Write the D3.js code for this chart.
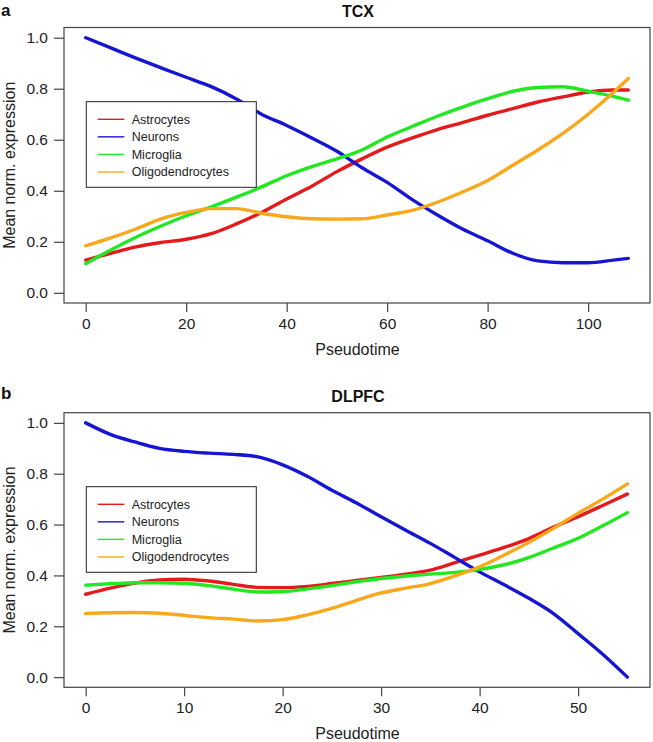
<!DOCTYPE html>
<html>
<head>
<meta charset="utf-8">
<script src="https://cdn.jsdelivr.net/npm/d3@7"></script>
<style>
  html, body { margin: 0; padding: 0; background: #fff; }
  svg { display: block; font-family: "Liberation Sans", Arial, Helvetica, sans-serif; }
</style>
</head>
<body>
<svg id="chart" width="653" height="742"></svg>
<script>
// ---------------- data ----------------
const seriesNames = ["Astrocytes", "Neurons", "Microglia", "Oligodendrocytes"];
const seriesColors = ["#e41a1c", "#1515d2", "#22e822", "#f9a81c"];

// Panel a: TCX
const tcxTime = [0, 5, 10, 15, 20, 25, 30, 35, 40, 45, 50, 55, 60, 65, 70, 75, 80, 85, 90, 95, 100, 105, 108];
const tcxAstrocytes = [0.128, 0.155, 0.180, 0.197, 0.210, 0.232, 0.270, 0.315, 0.368, 0.418, 0.475, 0.525, 0.571, 0.607, 0.640, 0.667, 0.696, 0.722, 0.748, 0.768, 0.787, 0.795, 0.795];
const tcxNeurons = [1.000, 0.960, 0.920, 0.882, 0.845, 0.808, 0.760, 0.700, 0.656, 0.607, 0.555, 0.490, 0.433, 0.365, 0.305, 0.250, 0.204, 0.155, 0.125, 0.118, 0.118, 0.128, 0.135];
const tcxMicroglia = [0.114, 0.168, 0.218, 0.262, 0.302, 0.337, 0.375, 0.415, 0.459, 0.495, 0.525, 0.560, 0.611, 0.652, 0.692, 0.728, 0.761, 0.790, 0.805, 0.808, 0.790, 0.770, 0.755];
const tcxOligodendrocytes = [0.184, 0.215, 0.250, 0.290, 0.315, 0.330, 0.330, 0.312, 0.298, 0.290, 0.289, 0.290, 0.305, 0.323, 0.355, 0.395, 0.440, 0.500, 0.560, 0.625, 0.700, 0.785, 0.840];

// Panel b: DLPFC
const dlpfcTime = [0, 2.5, 5, 7.5, 10, 12.5, 15, 17.5, 20, 22.5, 25, 27.5, 30, 32.5, 35, 37.5, 40, 42.5, 45, 47.5, 50, 52.5, 55];
const dlpfcAstrocytes = [0.326, 0.350, 0.370, 0.382, 0.385, 0.378, 0.365, 0.353, 0.352, 0.357, 0.368, 0.380, 0.392, 0.405, 0.421, 0.450, 0.480, 0.510, 0.545, 0.590, 0.631, 0.675, 0.720];
const dlpfcNeurons = [1.000, 0.955, 0.925, 0.900, 0.888, 0.881, 0.876, 0.866, 0.835, 0.790, 0.735, 0.685, 0.631, 0.578, 0.526, 0.470, 0.414, 0.363, 0.310, 0.250, 0.171, 0.090, 0.000];
const dlpfcMicroglia = [0.362, 0.367, 0.371, 0.371, 0.369, 0.360, 0.346, 0.335, 0.336, 0.347, 0.360, 0.375, 0.388, 0.398, 0.405, 0.412, 0.424, 0.442, 0.470, 0.508, 0.546, 0.595, 0.647];
const dlpfcOligodendrocytes = [0.250, 0.253, 0.254, 0.251, 0.243, 0.234, 0.228, 0.221, 0.226, 0.245, 0.270, 0.302, 0.331, 0.350, 0.368, 0.398, 0.434, 0.480, 0.530, 0.585, 0.645, 0.700, 0.760];

const tcxXTicks = [0, 20, 40, 60, 80, 100];
const dlpfcXTicks = [0, 10, 20, 30, 40, 50];
const yTicks = [0, 0.2, 0.4, 0.6, 0.8, 1.0];

const panels = [
  { letter: "a", title: "TCX", time: tcxTime,
    values: [tcxAstrocytes, tcxNeurons, tcxMicroglia, tcxOligodendrocytes],
    xTicks: tcxXTicks, xDomain: [-4.32, 112.32], top: 27.5, bottom: 303, legendTop: 101.7, letterY: 16 },
  { letter: "b", title: "DLPFC", time: dlpfcTime,
    values: [dlpfcAstrocytes, dlpfcNeurons, dlpfcMicroglia, dlpfcOligodendrocytes],
    xTicks: dlpfcXTicks, xDomain: [-2.2, 57.3], top: 412.7, bottom: 687.3, legendTop: 486.7, letterY: 398.5 }
];

const svg = d3.select("#chart");
const left = 64, right = 650;
const axisColor = "#444";

panels.forEach(p => {
  const g = svg.append("g");
  const x = d3.scaleLinear().domain(p.xDomain).range([left, right]);
  const y = d3.scaleLinear().domain([-0.04, 1.04]).range([p.bottom, p.top]);

  // curves
  const line = d3.line().x(d => x(d[0])).y(d => y(d[1])).curve(d3.curveMonotoneX);
  p.values.forEach((vals, i) => {
    g.append("path")
      .datum(p.time.map((t, k) => [t, vals[k]]))
      .attr("d", line)
      .attr("fill", "none")
      .attr("stroke", seriesColors[i])
      .attr("stroke-width", 3.4)
      .attr("stroke-linejoin", "round")
      .attr("stroke-linecap", "round");
  });

  // box
  g.append("rect")
    .attr("x", left).attr("y", p.top)
    .attr("width", right - left).attr("height", p.bottom - p.top)
    .attr("fill", "none").attr("stroke", axisColor).attr("stroke-width", 1.2);

  // x axis
  const xa = g.append("g").attr("transform", `translate(0,${p.bottom})`)
    .call(d3.axisBottom(x).tickValues(p.xTicks).tickSize(9).tickPadding(6).tickFormat(d3.format("d")));
  xa.select(".domain").remove();
  xa.selectAll("line").attr("stroke", axisColor).attr("stroke-width", 1.2);
  xa.selectAll("text").attr("font-size", "15.5px").attr("fill", "#222")
    .attr("font-family", "'Liberation Sans', Arial, sans-serif");

  // y axis
  const ya = g.append("g").attr("transform", `translate(${left},0)`)
    .call(d3.axisLeft(y).tickValues(yTicks).tickSize(10).tickPadding(6).tickFormat(d3.format(".1f")));
  ya.select(".domain").remove();
  ya.selectAll("line").attr("stroke", axisColor).attr("stroke-width", 1.2);
  ya.selectAll("text").attr("font-size", "15.5px").attr("fill", "#222")
    .attr("font-family", "'Liberation Sans', Arial, sans-serif");

  // axis titles
  g.append("text")
    .attr("x", (left + right) / 2 + 0.5).attr("y", p.bottom + 52)
    .attr("text-anchor", "middle").attr("font-size", "16px").attr("fill", "#222")
    .text("Pseudotime");
  g.append("text")
    .attr("transform", `translate(15,${(p.top + p.bottom) / 2}) rotate(-90)`)
    .attr("text-anchor", "middle").attr("font-size", "16px").attr("fill", "#222")
    .text("Mean norm. expression");

  // title
  g.append("text")
    .attr("x", (left + right) / 2 + 1).attr("y", p.top - 11)
    .attr("text-anchor", "middle").attr("font-size", "16px").attr("font-weight", "bold").attr("fill", "#111")
    .text(p.title);

  // panel letter
  g.append("text")
    .attr("x", 1).attr("y", p.letterY)
    .attr("font-size", "17px").attr("font-weight", "bold").attr("fill", "#111")
    .text(p.letter);

  // legend
  const lg = g.append("g");
  lg.append("rect")
    .attr("x", 86.3).attr("y", p.legendTop).attr("width", 170).attr("height", 85.6)
    .attr("fill", "#fff").attr("stroke", "#222").attr("stroke-width", 1);
  seriesNames.forEach((name, i) => {
    const ry = p.legendTop + 17.6 + i * 17.55;
    lg.append("line")
      .attr("x1", 97.7).attr("x2", 124.3).attr("y1", ry).attr("y2", ry)
      .attr("stroke", seriesColors[i]).attr("stroke-width", 1.4);
    lg.append("text")
      .attr("x", 131.7).attr("y", ry).attr("dy", "0.36em")
      .attr("font-size", "12.5px").attr("fill", "#222")
      .text(name);
  });
});
</script>
</body>
</html>
